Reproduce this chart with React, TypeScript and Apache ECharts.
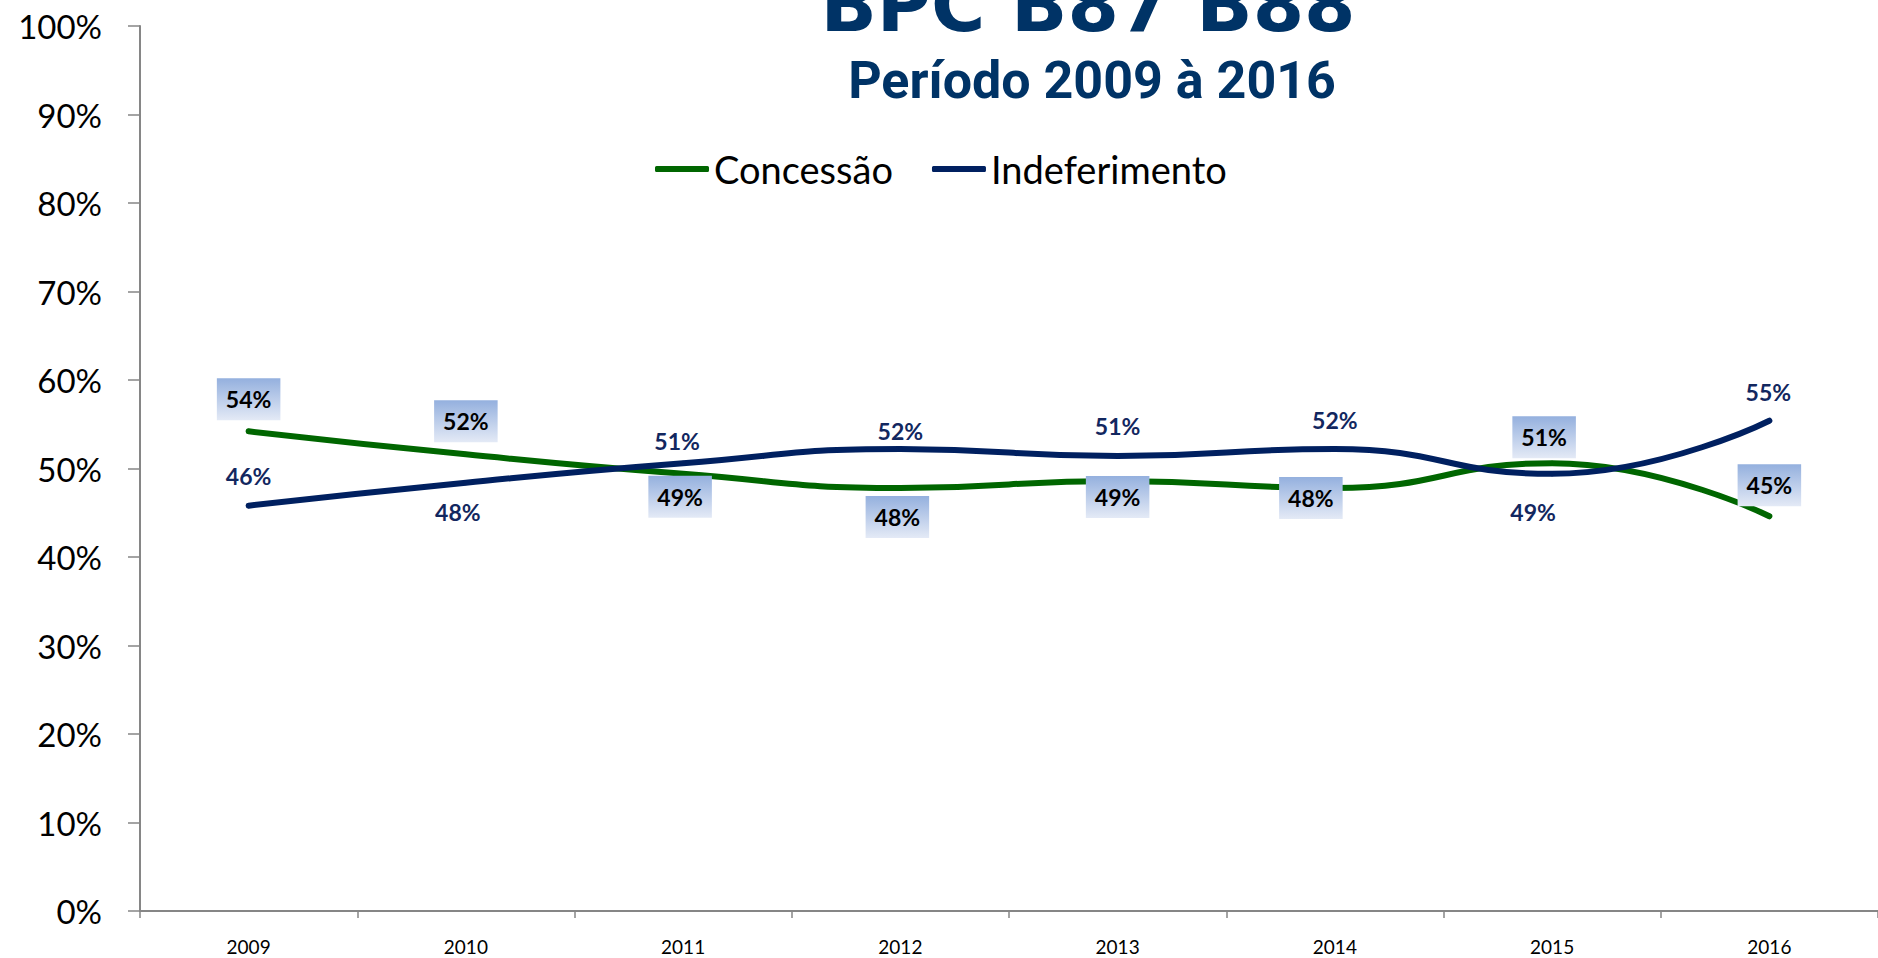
import React, { useEffect, useRef } from "react";
import * as echarts from "echarts";

const years = ["2009", "2010", "2011", "2012", "2013", "2014", "2015", "2016"];
const concessao = [54.2, 51.6, 49.4, 47.8, 48.6, 47.8, 50.6, 44.6];
const indeferimento = [45.8, 48.4, 50.6, 52.2, 51.4, 52.2, 49.4, 55.4];
const yTicks = [0, 10, 20, 30, 40, 50, 60, 70, 80, 90, 100];

// label placement (style config, relative to each point)
const concessaoLabelOffset = [[0, -32], [0, -33], [-3, 23], [-3, 29], [0, 16], [-24, 10], [-8, -26], [0, -31]];
const indeferimentoLabelOffset = [[0, -30], [-8, 29], [-6, -22], [0, -18], [0, -30], [0, -29], [-19, 38], [-1, -29]];

const GREEN = "#006600";
const NAVY = "#002060";

export default function App() {
  const ref = useRef<HTMLDivElement>(null);
  useEffect(() => {
    document.body.style.margin = "0";
    const chart = echarts.init(ref.current!, null, { renderer: "svg" });
    const boxGradient = new echarts.graphic.LinearGradient(0, 0, 0, 1, [
      { offset: 0, color: "#94b0de" },
      { offset: 1, color: "#e4eaf6" },
    ]);
    chart.setOption({
      animation: false,
      backgroundColor: "#ffffff",
      graphic: [
        {
          type: "text",
          x: 1088,
          y: 5,
          style: {
            text: "BPC B87 B88",
            fontFamily: "DejaVu Sans",
            fontWeight: "bold",
            fontSize: 74,
            fill: "#003366",
            align: "center",
            verticalAlign: "middle",
          },
        },
        {
          type: "text",
          x: 1092,
          y: 80,
          style: {
            text: "Período 2009 à 2016",
            fontFamily: "Roboto",
            fontWeight: "bold",
            fontSize: 52,
            fill: "#003366",
            align: "center",
            verticalAlign: "middle",
          },
        },
      ],
      legend: {
        left: 650,
        top: 145,
        itemWidth: 54,
        itemHeight: 6,
        itemGap: 39,
        icon: "roundRect",
        textStyle: { fontFamily: "Lato", fontSize: 38, color: "#000" },
        data: ["Concessão", "Indeferimento"],
      },
      grid: { left: 140, top: 26, width: 1744, height: 885 },
      xAxis: {
        type: "category",
        data: years,
        boundaryGap: true,
        axisLine: { lineStyle: { color: "#868686", width: 2 } },
        axisTick: { show: true, length: 7, lineStyle: { color: "#868686", width: 1.5 } },
        axisLabel: { fontFamily: "Lato", fontSize: 19, color: "#000", margin: 26 },
      },
      yAxis: {
        type: "value",
        min: 0,
        max: 100,
        interval: 10,
        splitLine: { show: false },
        axisLine: { show: true, lineStyle: { color: "#868686", width: 2 } },
        axisTick: { show: true, length: 12, lineStyle: { color: "#868686", width: 1.5 } },
        axisLabel: {
          fontFamily: "Lato",
          fontSize: 33,
          color: "#000",
          margin: 38,
          formatter: (v: number) => (yTicks.includes(v) ? v + "%" : ""),
        },
      },
      series: [
        {
          name: "Concessão",
          type: "line",
          smooth: 0.5,
          symbol: "circle",
          symbolSize: 5,
          itemStyle: { color: GREEN },
          lineStyle: { color: GREEN, width: 6, cap: "round" },
          z: 2,
          label: {
            show: true,
            position: "inside",
            formatter: (p: any) => Math.round(p.value) + "%",
            fontFamily: "Lato",
            fontWeight: "bold",
            fontSize: 23,
            color: "#000",
            backgroundColor: boxGradient,
            padding: [7, 9],
            lineHeight: 28,
          },
          data: concessao.map((v, i) => ({ value: v, label: { offset: concessaoLabelOffset[i] } })),
        },
        {
          name: "Indeferimento",
          type: "line",
          smooth: 0.5,
          symbol: "circle",
          symbolSize: 5,
          itemStyle: { color: NAVY },
          lineStyle: { color: NAVY, width: 6, cap: "round" },
          z: 3,
          label: {
            show: true,
            position: "inside",
            formatter: (p: any) => Math.round(p.value) + "%",
            fontFamily: "Lato",
            fontWeight: "bold",
            fontSize: 23,
            color: "#12275f",
          },
          data: indeferimento.map((v, i) => ({ value: v, label: { offset: indeferimentoLabelOffset[i] } })),
        },
      ],
    });
    return () => chart.dispose();
  }, []);
  return <div ref={ref} style={{ width: 1878, height: 958 }} />;
}
